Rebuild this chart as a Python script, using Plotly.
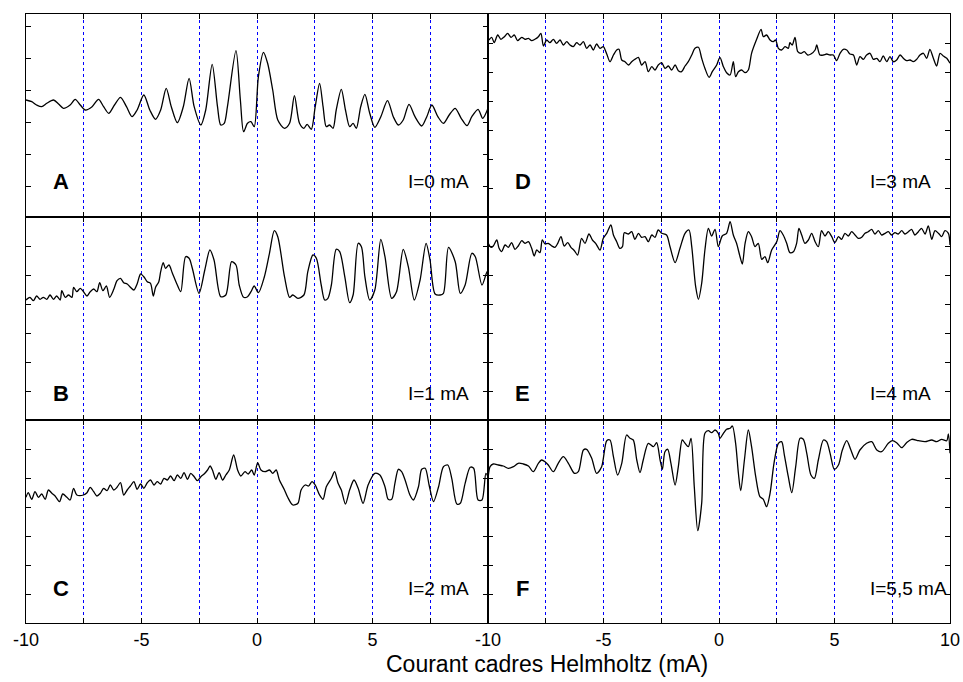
import plotly.graph_objects as go
from plotly.subplots import make_subplots

# ---------------- data (current in mA, signal in arbitrary units) ----------------
xA = [-10.0,-9.75,-9.54,-9.32,-9.10,-8.81,-8.59,-8.38,-8.09,-7.87,-7.65,-7.43,-7.14,-6.86,-6.64,-6.42,-6.17,-5.91,-5.65,-5.41,-5.19,-4.90,-4.64,-4.39,-4.17,-3.93,-3.71,-3.45,-3.19,-2.94,-2.72,-2.43,-2.22,-1.94,-1.71,-1.57,-1.42,-1.28,-0.91,-0.72,-0.58,-0.41,-0.26,-0.12,0.06,0.28,0.46,0.68,0.90,1.19,1.41,1.62,1.84,2.03,2.17,2.35,2.52,2.71,2.86,3.00,3.14,3.29,3.43,3.65,3.83,4.01,4.16,4.30,4.49,4.67,4.88,5.10,5.36,5.65,5.90,6.12,6.33,6.58,6.84,7.13,7.35,7.57,7.83,8.07,8.32,8.58,8.84,9.09,9.30,9.57,9.77,9.91,10.0]
yA = [117,115.3,112,110.3,113.7,117,113,108.7,112,117.7,112,107,110.3,117.7,110.3,103.7,112,119.7,110.3,100.3,107,122,107,97.7,107,128.7,110.3,94.3,110.3,138.7,110.3,92,107,152.7,110.3,92,93.7,110.3,166.3,117,85.3,93.7,95.3,90.3,140.3,164.7,153.7,127,97,88.7,93.7,121.3,93.7,88.7,92.7,87.7,110.3,133.7,110.3,90.3,92,88.7,107,127.7,107,90.3,93.7,88.7,110.3,122.7,103.7,89.7,100.3,116.3,100.3,92,97,112.7,100.3,91,100.3,112,100.3,93.7,102,108.7,98.7,91.3,100.3,107.7,98.7,103.7,108.7]

xB = [-10.0,-9.83,-9.68,-9.54,-9.39,-9.25,-9.10,-8.96,-8.81,-8.67,-8.52,-8.45,-8.30,-8.16,-8.01,-7.94,-7.80,-7.65,-7.51,-7.36,-7.22,-7.07,-6.93,-6.81,-6.67,-6.52,-6.38,-6.20,-6.06,-5.91,-5.77,-5.62,-5.48,-5.33,-5.19,-5.04,-4.90,-4.75,-4.61,-4.49,-4.39,-4.25,-4.17,-4.06,-3.96,-3.81,-3.67,-3.45,-3.30,-3.09,-2.94,-2.80,-2.51,-2.26,-2.04,-1.86,-1.57,-1.35,-1.10,-0.91,-0.77,-0.58,-0.41,-0.26,-0.12,0.06,0.32,0.54,0.75,0.90,1.19,1.41,1.55,1.77,2.03,2.20,2.42,2.57,2.78,2.93,3.07,3.22,3.43,3.58,3.80,4.01,4.16,4.38,4.52,4.67,4.88,5.10,5.36,5.54,5.83,6.04,6.33,6.55,6.81,7.06,7.32,7.49,7.71,7.93,8.07,8.29,8.58,8.80,9.01,9.30,9.45,9.74,9.96,10.0]
yB = [120,122.7,119.3,124,120.7,122.7,120.7,125,120.7,124,120,129.3,122.7,125,122.7,132.7,128.3,131.7,128.3,124,128.3,131,128.3,137.3,129.3,134,122.7,130.7,139.3,141.7,137.3,136,132.7,130,136,146,143.3,138.3,136.7,124,132.7,138.3,148.3,157.3,151.7,155,147.3,135,128.3,163.3,161.7,151.7,126.7,150,170,160,123.3,125,158.3,155,135,122.7,123.3,128.3,134,127.3,143.3,166.7,189.3,183.3,143.3,122.7,125,121.7,125,148.3,165,161.7,135,120,121.7,135,170.7,168.3,143.3,117.3,125,176.7,173.3,143.3,120,130,180.7,163.3,121.7,128.3,170.7,153.3,120,140,176.7,160,126,125,126.7,172.7,158.3,126.7,135,166.7,163.3,135,148.3,140]

xC = [-10.0,-9.90,-9.75,-9.61,-9.46,-9.32,-9.17,-9.03,-8.88,-8.74,-8.55,-8.41,-8.23,-8.09,-7.94,-7.80,-7.51,-7.36,-7.22,-7.07,-6.93,-6.78,-6.64,-6.49,-6.35,-6.20,-6.06,-5.91,-5.77,-5.62,-5.48,-5.33,-5.19,-5.04,-4.90,-4.75,-4.61,-4.46,-4.32,-4.17,-4.03,-3.88,-3.74,-3.59,-3.45,-3.30,-3.16,-3.01,-2.87,-2.72,-2.58,-2.43,-2.29,-2.14,-2.03,-1.93,-1.78,-1.64,-1.49,-1.35,-1.20,-1.01,-0.84,-0.70,-0.52,-0.38,-0.23,-0.12,0.03,0.17,0.35,0.54,0.68,0.83,0.97,1.19,1.33,1.55,1.77,1.91,2.09,2.23,2.38,2.52,2.71,2.86,3.00,3.22,3.36,3.51,3.65,3.83,4.01,4.20,4.38,4.59,4.81,5.10,5.32,5.54,5.68,5.83,5.97,6.12,6.26,6.41,6.62,6.77,6.99,7.13,7.28,7.45,7.64,7.86,8.07,8.26,8.43,8.65,8.80,9.01,9.23,9.38,9.57,9.74,9.91,10.0]
yC = [125.7,130.3,123.7,131.3,125.7,129,123.7,133,129.7,127,121.3,129,125.7,123,134.7,128,128,130.3,135.7,131.3,127,129.7,134.7,132.3,138,133,135.7,140.3,128,133,137,141.3,133.7,139,134.7,140.3,143,138,141.3,139,144.7,143,147,142.3,148,144.7,150.3,143.7,149.7,146.3,142.3,146.3,149,153,157,153,143.7,150.3,143,148,153,168,153,147,151.3,149,153,148,160.3,153,151.3,153,149.7,153,143,133,125.7,118,119.7,133,138,137,141.3,138,128,123.7,136.3,144.7,151.3,139.7,133,119,133,143,134.7,119.7,138,149.7,148,136.3,123.7,123.7,139.7,153.7,151.3,143,128,123,136.3,153.7,154.7,138,121.3,136.3,156.3,158,144.7,119,119.7,139.7,155.7,154.7,123,123,149.7,146.3]

xD = [-9.96,-9.84,-9.73,-9.58,-9.44,-9.29,-9.15,-9.00,-8.86,-8.72,-8.54,-8.40,-8.25,-8.11,-7.97,-7.82,-7.71,-7.60,-7.46,-7.32,-7.17,-7.03,-6.88,-6.74,-6.59,-6.45,-6.31,-6.16,-6.02,-5.87,-5.73,-5.58,-5.44,-5.30,-5.15,-5.01,-4.86,-4.72,-4.57,-4.43,-4.33,-4.21,-4.07,-3.92,-3.78,-3.64,-3.49,-3.35,-3.20,-3.06,-2.91,-2.77,-2.63,-2.48,-2.34,-2.19,-2.05,-1.90,-1.76,-1.62,-1.47,-1.33,-1.18,-1.04,-0.89,-0.75,-0.61,-0.43,-0.29,-0.10,0.04,0.19,0.33,0.48,0.62,0.72,0.84,0.98,1.13,1.27,1.41,1.63,1.82,1.92,2.06,2.21,2.35,2.45,2.57,2.71,2.86,3.00,3.07,3.17,3.29,3.41,3.55,3.69,3.84,3.98,4.16,4.23,4.37,4.52,4.66,4.81,4.95,5.09,5.24,5.38,5.53,5.67,5.82,5.96,6.10,6.25,6.39,6.54,6.68,6.83,6.97,7.11,7.26,7.40,7.55,7.69,7.84,7.98,8.12,8.27,8.41,8.56,8.70,8.85,8.99,9.13,9.28,9.42,9.57,9.71,9.86,10.0]
yD = [177,179.7,174.3,182,177.7,180.3,183.7,179.7,182,176.3,179.7,177.7,178.7,176.3,177.7,180.3,183.7,171,177,174.3,177.7,173.7,177,172,175.3,172,170.3,174.3,172,175.3,168.7,172,167,173,168.7,170.3,163,155.3,162,167,167.7,157,155.3,152,155.3,157.7,159.7,152,155.3,145.3,150.3,147,152,154.3,148.7,151,147,152,146.3,145.3,151,155.3,162,168.7,169.7,158.7,148.7,139.7,145.3,152,159.7,150.3,144.3,142,155.3,140.3,145.3,147,144.3,147,163.7,177.7,187.7,180.3,182,177,175.3,177,168.7,167,170.3,168.7,174.3,172,179.7,165.3,163.7,165.3,162,163,167,172,162,162,163,162,162,156.3,163.7,167.7,167,163,162,152,160.3,157.7,162,163.7,157.7,158.7,155.3,161,155.3,160.3,155.3,157,162,158.7,156.3,157,155.3,157.7,162,163.7,158.7,167.7,158.7,151,163.7,161,158.7,153.7]

xE = [-9.99,-9.87,-9.77,-9.62,-9.52,-9.41,-9.26,-9.12,-8.98,-8.83,-8.69,-8.54,-8.40,-8.25,-8.11,-8.00,-7.89,-7.75,-7.65,-7.53,-7.39,-7.24,-7.10,-6.98,-6.84,-6.70,-6.55,-6.41,-6.26,-6.12,-5.95,-5.80,-5.63,-5.48,-5.34,-5.15,-5.01,-4.86,-4.68,-4.57,-4.43,-4.29,-4.18,-4.10,-3.92,-3.78,-3.64,-3.49,-3.35,-3.20,-3.06,-2.91,-2.77,-2.63,-2.48,-2.27,-2.12,-1.90,-1.69,-1.47,-1.30,-1.18,-1.01,-0.89,-0.75,-0.61,-0.46,-0.32,-0.17,-0.03,0.14,0.33,0.48,0.62,0.76,0.91,1.01,1.13,1.27,1.41,1.56,1.70,1.85,1.99,2.11,2.28,2.50,2.64,2.78,2.93,3.07,3.22,3.36,3.46,3.58,3.72,3.87,4.01,4.16,4.30,4.44,4.59,4.73,4.88,5.02,5.17,5.31,5.45,5.60,5.74,5.89,6.03,6.18,6.32,6.46,6.61,6.75,6.90,7.04,7.19,7.33,7.47,7.62,7.76,7.91,8.05,8.20,8.34,8.48,8.63,8.77,8.92,9.06,9.21,9.35,9.50,9.64,9.78,9.93,10.0]
yE = [176.7,172.7,174,180,171.7,168.3,175,172.7,177.3,170.7,174,179.3,176.7,178.3,171.7,164,170,167.3,180,176,176.7,174,172.7,176.7,183.3,174,177.3,172.7,169.3,165,181.7,176.7,186,180,176.7,170,181.7,186.7,195,185,178.3,171.7,173.3,187.3,186,188.3,180.7,186.7,182.7,183.3,178.3,185,182.7,190,186.7,185,173.3,157.3,171.7,186.7,190,173.3,133.3,120.7,136.7,170,191.7,184,190.7,173.3,184,186.7,198.3,185,176.7,163.3,156,176.7,188.3,183.3,173.3,176.7,160.7,163.3,157.3,170,178.3,189.3,185,176.7,167.3,168.3,176.7,191.7,185,176.7,180,186.7,178.3,173.3,189.3,184,188.3,183.3,177.3,183.3,180.7,186.7,184,188.3,185,181.7,182.7,186.7,188.3,190.7,186,189.3,185,186.7,188.3,185,187.3,186,189.3,186,188.3,190.7,185,188.3,191.7,186,194,180.7,189.3,186.7,183.3,189.3,186.7,175]

xF = [-9.99,-9.91,-9.77,-9.55,-9.34,-9.12,-8.90,-8.69,-8.47,-8.25,-8.04,-7.82,-7.68,-7.53,-7.39,-7.17,-6.96,-6.74,-6.52,-6.26,-6.09,-5.87,-5.73,-5.51,-5.30,-5.08,-4.86,-4.72,-4.57,-4.39,-4.21,-4.00,-3.85,-3.71,-3.56,-3.42,-3.28,-3.06,-2.84,-2.70,-2.55,-2.45,-2.34,-2.22,-2.08,-1.90,-1.76,-1.59,-1.47,-1.33,-1.21,-1.07,-0.92,-0.75,-0.61,-0.46,-0.32,-0.17,-0.03,0.04,0.19,0.33,0.48,0.58,0.72,0.84,0.94,1.10,1.27,1.41,1.59,1.77,1.92,2.06,2.21,2.38,2.57,2.71,2.83,3.00,3.15,3.32,3.51,3.65,3.80,3.98,4.13,4.30,4.52,4.66,4.81,4.99,5.17,5.34,5.53,5.71,5.89,6.10,6.39,6.61,6.83,7.04,7.33,7.50,7.69,7.91,8.12,8.34,8.63,8.92,9.21,9.42,9.64,9.86,9.93,10.0]
yF = [146.3,156.3,159,158,157,154.7,156.3,159.7,159,157,151.3,159.7,163,161.3,158,151.3,159.7,166.3,159.7,149.7,151.3,173,173.7,164.7,149.7,156.3,182.3,183,166.3,148,159.7,188,184.7,183,163,150.3,163,179.7,176.3,180.3,163,153.7,171.3,173.7,159.7,138,156.3,183,179.7,176.3,184.7,136.3,92.3,119.7,189.7,192.3,190.3,193,189.7,184.7,189.7,193.7,194.7,197,179.7,149.7,132.3,163,193,176.3,146.3,126.3,123.7,116.3,129.7,159.7,179.7,181.3,168,146.3,130.3,156.3,184.7,183.7,169.7,148,144.7,163,183,181.3,169.7,153.7,158,173,182.3,173,163.7,173,179.7,181.3,173,171.3,179.7,182.3,180.3,175.3,180.3,183.7,182.3,181.3,183,181.3,183.7,182.3,189,169.7]

panel_letters = ["A", "B", "C", "D", "E", "F"]
panel_currents = ["I=0 mA", "I=1 mA", "I=2 mA", "I=3 mA", "I=4 mA", "I=5,5 mA"]
xtick_vals = [-10, -7.5, -5, -2.5, 0, 2.5, 5, 7.5, 10]
xtick_text_left = ["-10", "", "-5", "", "0", "", "5", "", ""]
xtick_text_right = ["-10", "", "-5", "", "0", "", "5", "", "10"]
ytick_A = [31, 63, 95, 127, 159, 191]
ytick_other = [29, 58, 87, 116, 145, 174]
x_title = "Courant cadres Helmholtz (mA)"

series = [(xA, yA), (xB, yB), (xC, yC), (xD, yD), (xE, yE), (xF, yF)]
positions = [(1, 1), (2, 1), (3, 1), (1, 2), (2, 2), (3, 2)]
letter_y = [35.5, 27, 35, 35.5, 27, 35]

fig = make_subplots(rows=3, cols=2, horizontal_spacing=0, vertical_spacing=0)

FONT = "Liberation Sans, Arial, Helvetica, sans-serif"

for i, ((xs, ys), (r, c)) in enumerate(zip(series, positions)):
    fig.add_trace(go.Scatter(x=xs, y=ys, mode="lines",
                             line=dict(color="black", width=1.3, shape="spline", smoothing=0.8),
                             showlegend=False, hoverinfo="skip"), row=r, col=c)
    fig.add_annotation(x=-8.5, y=letter_y[i], text="<b>%s</b>" % panel_letters[i],
                       showarrow=False, xanchor="center", yanchor="middle",
                       font=dict(size=22, color="black", family=FONT), row=r, col=c)
    fig.add_annotation(x=6.45, y=letter_y[i], text=panel_currents[i],
                       showarrow=False, xanchor="left", yanchor="middle",
                       font=dict(size=19, color="black", family=FONT), row=r, col=c)
    fig.update_xaxes(range=[-10, 10], tickvals=xtick_vals,
                     ticktext=(xtick_text_left if c == 1 else xtick_text_right),
                     showticklabels=(r == 3), ticks="inside", ticklen=5, tickcolor="black",
                     showline=True, linecolor="black", linewidth=1, mirror="ticks",
                     showgrid=True, gridcolor="blue", griddash="dot", gridwidth=1,
                     zeroline=False, automargin=False,
                     tickfont=dict(size=18, color="black", family=FONT),
                     row=r, col=c)
    fig.update_yaxes(range=[0, 203], tickvals=(ytick_A if i == 0 else ytick_other),
                     showticklabels=False, ticks="inside", ticklen=5, tickcolor="black",
                     showline=True, linecolor="black", linewidth=1, mirror="ticks",
                     showgrid=False, zeroline=False, automargin=False, row=r, col=c)

fig.add_annotation(x=0.564, y=-0.067, xref="paper", yref="paper", text=x_title,
                   showarrow=False, xanchor="center", yanchor="middle",
                   font=dict(size=23, color="black", family=FONT))

fig.update_layout(width=963, height=682,
                  margin=dict(l=26, r=13, t=14, b=59, autoexpand=False),
                  plot_bgcolor="white", paper_bgcolor="white")

fig.write_html("out.html", config={"displayModeBar": False},
               post_script="document.body.style.margin='0';document.body.style.overflow='hidden';")
